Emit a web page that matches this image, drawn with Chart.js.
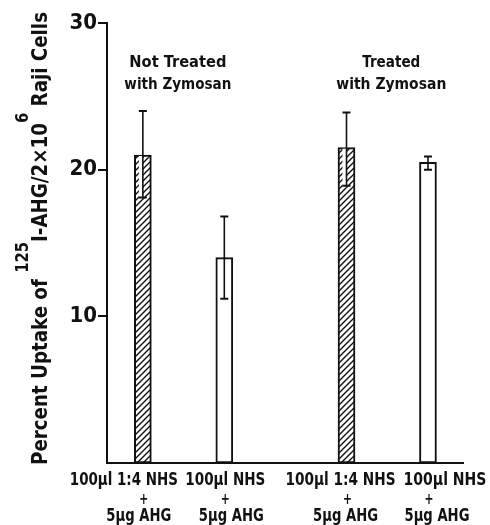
<!DOCTYPE html>
<html>
<head>
<meta charset="utf-8">
<script src="https://cdn.jsdelivr.net/npm/chart.js@4.4.1/dist/chart.umd.min.js"></script>
<style>
  html, body { margin: 0; padding: 0; background: #fff; }
  #wrap { width: 490px; height: 525px; position: relative; }
</style>
</head>
<body>
<div id="wrap"><canvas id="c" width="490" height="525"></canvas></div>
<script>
// ---------------- DATA ----------------
const labelLine1 = ['100µl 1:4 NHS', '100µl NHS', '100µl 1:4 NHS', '100µl NHS'];
const labelLine2 = ['+', '+', '+', '+'];
const labelLine3 = ['5µg AHG', '5µg AHG', '5µg AHG', '5µg AHG'];
const groupLabels = [['Not Treated', 'with Zymosan'], ['Treated', 'with Zymosan']];
const uptake  = [21.0, 14.0, 21.5, 20.5];   // percent uptake (bar height)
const errHigh = [24.0, 16.8, 23.9, 20.9];
const errLow  = [18.1, 11.2, 18.9, 20.0];
const yTicks  = [10, 20, 30];
const yTitle  = [['Percent Uptake of ', false], ['125', true], ['I-AHG/2×10', false], ['6', true], [' Raji Cells', false]];

// ---------------- LAYOUT / STYLE ----------------
const slots = [0, 2, 5, 7];            // bar positions along the x axis
const groupSlot = [0.86, 6.1];          // group caption centres (x units)
const hatched = [true, false, true, false];
const FONT = '"Liberation Sans Narrow", "DejaVu Sans Condensed", "Arial Narrow", sans-serif';
const line1W = [108, 80, 110, 83], line1Dx = [-19, 1, -6, 17];
const line3W = [65, 65, 65, 65],   line3Dx = [-4, 7, -1, 9];

function makeHatch() {
  const s = 6, p = document.createElement('canvas');
  p.width = s; p.height = s;
  const g = p.getContext('2d');
  g.fillStyle = '#fff'; g.fillRect(0, 0, s, s);
  g.strokeStyle = '#111'; g.lineWidth = 1.4;
  g.beginPath();
  g.moveTo(-1, s + 1); g.lineTo(s + 1, -1);
  g.moveTo(-1, 1); g.lineTo(1, -1);
  g.moveTo(s - 1, s + 1); g.lineTo(s + 1, s - 1);
  g.stroke();
  return document.getElementById('c').getContext('2d').createPattern(p, 'repeat');
}
const hatch = makeHatch();

function fitText(ctx, txt, cx, cy, w, font) {
  ctx.save();
  ctx.font = font;
  const m = ctx.measureText(txt).width;
  ctx.translate(cx, cy);
  ctx.scale(w / m, 1);
  ctx.textAlign = 'center';
  ctx.textBaseline = 'middle';
  ctx.fillStyle = '#111';
  ctx.fillText(txt, 0, 0);
  ctx.restore();
}

const decor = {
  id: 'decor',
  afterDatasetsDraw(chart) {
    const ctx = chart.ctx, ys = chart.scales.y;
    const meta = chart.getDatasetMeta(0);
    ctx.save();
    meta.data.forEach((bar, i) => {
      const x = bar.x;
      const yh = ys.getPixelForValue(errHigh[i]);
      const yl = ys.getPixelForValue(errLow[i]);
      const yb = ys.getPixelForValue(uptake[i]);
      if (hatched[i] && yl > yb) {
        ctx.fillStyle = '#fff';
        ctx.fillRect(x - 4, yb + 1, 4, yl - yb - 1);
      }
      ctx.strokeStyle = '#111';
      ctx.lineWidth = 1.6;
      ctx.beginPath(); ctx.moveTo(x, yh); ctx.lineTo(x, yl); ctx.stroke();
      ctx.lineWidth = 2;
      ctx.beginPath();
      ctx.moveTo(x - 4, yh); ctx.lineTo(x + 4, yh);
      ctx.moveTo(x - 4, yl); ctx.lineTo(x + 4, yl);
      ctx.stroke();
    });
    ctx.restore();
  },
  afterDraw(chart) {
    const ctx = chart.ctx, xs = chart.scales.x;
    // x category labels
    slots.forEach((s, i) => {
      const cx = xs.getPixelForValue(s);
      fitText(ctx, labelLine1[i], cx + line1Dx[i], 480, line1W[i], 'bold 18px ' + FONT);
      fitText(ctx, labelLine2[i], cx + 1, 500, 9, 'bold 15px ' + FONT);
      fitText(ctx, labelLine3[i], cx + line3Dx[i], 517, line3W[i], 'bold 17px ' + FONT);
    });
    // group captions
    const gw = [[97, 107], [58, 110]];
    groupLabels.forEach((lines, g) => {
      const cx = xs.getPixelForValue(groupSlot[g]);
      fitText(ctx, lines[0], cx, 63, gw[g][0], 'bold 16px ' + FONT);
      fitText(ctx, lines[1], cx, 85, gw[g][1], 'bold 16px ' + FONT);
    });
    // rotated y-axis title with superscripts
    ctx.save();
    ctx.fillStyle = '#111';
    const mainF = 'bold 21px ' + FONT, supF = 'bold 17px ' + FONT;
    let total = 0;
    const widths = yTitle.map(([t, sup]) => { ctx.font = sup ? supF : mainF; const w = ctx.measureText(t).width; total += w; return w; });
    const sx = 453 / total;
    ctx.translate(47, 465);
    ctx.rotate(-Math.PI / 2);
    ctx.scale(sx, 1);
    ctx.textBaseline = 'alphabetic';
    ctx.textAlign = 'left';
    let pos = 0;
    yTitle.forEach(([t, sup], k) => {
      ctx.font = sup ? supF : mainF;
      ctx.fillText(t, pos, sup ? -19 : 0);
      pos += widths[k];
    });
    ctx.restore();
  }
};

new Chart(document.getElementById('c'), {
  type: 'bar',
  data: {
    datasets: [{
      data: slots.map((s, i) => ({ x: s, y: uptake[i] })),
      backgroundColor: hatched.map(h => h ? hatch : '#fff'),
      borderColor: '#111',
      borderWidth: 2,
      borderSkipped: false,
      barThickness: 17
    }]
  },
  options: {
    responsive: false,
    animation: false,
    events: [],
    layout: { padding: { top: 23, right: 27, left: 0, bottom: 0 } },
    plugins: { legend: { display: false }, tooltip: { enabled: false } },
    scales: {
      x: {
        type: 'linear',
        offset: false,
        min: -0.88, max: 7.86,
        grid: { display: false },
        border: { display: true, color: '#111', width: 2 },
        ticks: { display: false },
        afterFit(scale) { scale.height = 62; }
      },
      y: {
        min: 0, max: 30,
        afterBuildTicks(scale) { scale.ticks = yTicks.map(v => ({ value: v })); },
        grid: { drawOnChartArea: false, drawTicks: true, tickLength: 9, color: '#111', lineWidth: 2 },
        border: { display: true, color: '#111', width: 2 },
        ticks: { color: '#111', padding: 1, font: { family: FONT, size: 22, weight: 'bold' } },
        afterFit(scale) { scale.width = 107; }
      }
    }
  },
  plugins: [decor]
});
</script>
</body>
</html>
